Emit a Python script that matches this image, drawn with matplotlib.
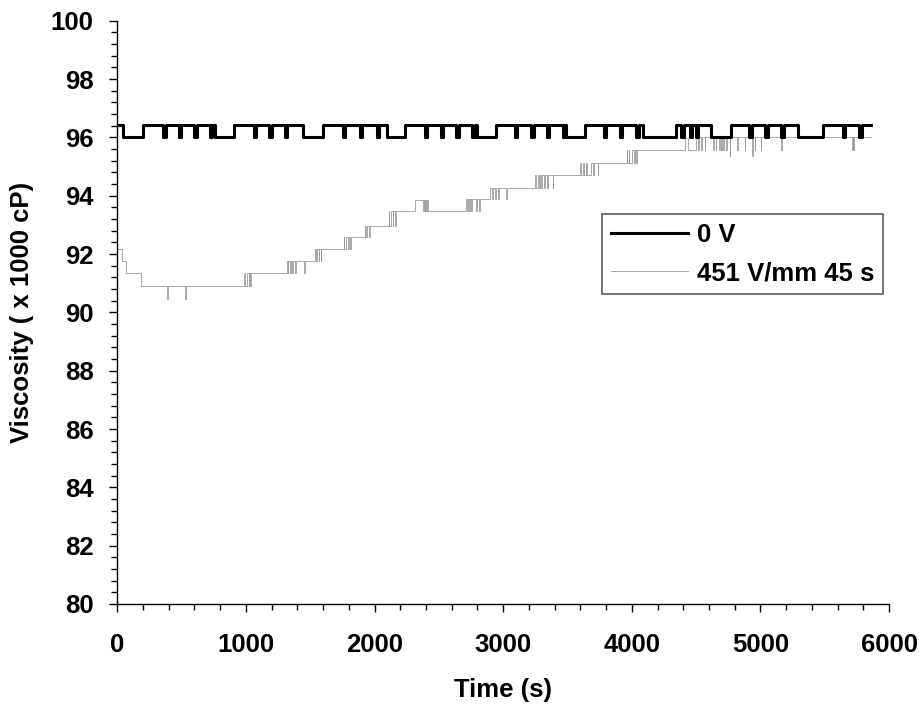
import numpy as np
import matplotlib
matplotlib.use("Agg")
import matplotlib.pyplot as plt
from matplotlib.ticker import MultipleLocator

# ---------------------------------------------------------
# Viscosity vs time, 0 V reference vs 451 V/mm applied 45 s
# values (x 1000 cP)
# ---------------------------------------------------------

T_END = 5862

# 0 V run: toggles between two levels
HI_0V = 96.43
LO_0V = 96.00
low_start_0v = [47, 759, 1441, 2093, 2793, 3492, 4087, 4619, 5289]
low_end_0v = [197, 907, 1601, 2235, 2948, 3633, 4347, 4774, 5486]
dip_times_0v = [357, 479, 598, 722, 1064, 1181, 1303, 1756, 1886, 2016,
                2391, 2515, 2637, 2761, 3090, 3220, 3337, 3465, 3781, 3905,
                4036, 4385, 4450, 4500, 4914, 5039, 5162, 5641, 5770]
DIP_W = 18

# 451 V/mm run: stepped recovery
step_t_451 = [0, 34, 68, 185, 1010, 1330, 1550, 1780, 1940, 2130, 2315,
              2375, 2760, 2900, 3300, 3680, 4000, 4411, 4437, 4500]
step_v_451 = [92.17, 91.75, 91.35, 90.90, 91.35, 91.75, 92.17, 92.60,
              92.97, 93.49, 93.86, 93.49, 93.88, 94.26, 94.72, 95.12,
              95.57, 95.97, 95.57, 96.00]
# short noise spikes (time, value)
spike_t_451 = [60, 80, 88, 150, 165, 195, 205, 389, 526, 985, 995, 1020,
               1030, 1320, 1345, 1360, 1380, 1453, 1540, 1565, 1580, 1760,
               1795, 1810, 1925, 1955, 2110, 2140, 2160, 2385, 2395, 2410,
               2710, 2725, 2745, 2790, 2810, 2915, 2935, 2960, 3020, 3250,
               3270, 3285, 3320, 3340, 3385, 3600, 3620, 3645, 3700, 3735,
               3960, 3975, 4020, 4036, 4514, 4541, 4566, 4631, 4652, 4678,
               4696, 4709, 4735, 4761, 4818, 4877, 4937, 4955, 5002, 5162,
               5714, 5722]
spike_v_451 = [91.75, 91.35, 91.35, 91.35, 91.35, 90.90, 90.90, 90.47, 90.47,
               91.35, 90.90, 90.90, 90.90, 91.75, 91.35, 91.35, 91.35, 91.35,
               92.17, 91.75, 91.75, 92.60, 92.17, 92.17, 92.97, 92.60, 93.49,
               92.97, 92.97, 93.86, 93.86, 93.86, 93.88, 93.88, 93.88, 93.49,
               93.49, 93.88, 93.88, 93.88, 93.88, 94.72, 94.72, 94.72, 94.26,
               94.26, 94.26, 95.12, 95.12, 95.12, 94.72, 94.72, 95.57, 95.57,
               95.12, 95.12, 95.57, 95.57, 95.57, 95.57, 95.57, 95.57, 95.57,
               95.57, 95.57, 95.35, 95.57, 95.57, 95.35, 95.57, 95.57, 95.57,
               95.57, 95.57]
SPIKE_W = 6


def build_0v():
    events = [(0, HI_0V)]
    for s, e in zip(low_start_0v, low_end_0v):
        events += [(s, LO_0V), (e, HI_0V)]
    for d in dip_times_0v:
        events += [(d, LO_0V), (d + DIP_W, HI_0V)]
    events.sort()
    t = [p[0] for p in events] + [T_END]
    v = [p[1] for p in events] + [events[-1][1]]
    return t, v


def build_451():
    st = np.array(step_t_451)
    sv = np.array(step_v_451)
    events = list(zip(step_t_451, step_v_451))
    for t, v in zip(spike_t_451, spike_v_451):
        base = sv[np.searchsorted(st, t, side="right") - 1]
        events += [(t, v), (t + SPIKE_W, base)]
    events.sort()
    t = [p[0] for p in events] + [T_END]
    v = [p[1] for p in events] + [events[-1][1]]
    return t, v


plt.rcParams["font.family"] = ["Liberation Sans", "DejaVu Sans"]
plt.rcParams["font.weight"] = "bold"
FS = 18.5

fig = plt.figure(figsize=(9.23, 7.09), dpi=100)
ax = fig.add_axes([0.1271, 0.1481, 0.8361, 0.8227])

t0, v0 = build_0v()
t1, v1 = build_451()

ax.plot(t1, v1, drawstyle="steps-post", color="#9a9a9a", linewidth=0.6,
        label="451 V/mm 45 s", zorder=2)
ax.plot(t0, v0, drawstyle="steps-post", color="black", linewidth=2.2,
        label="0 V", zorder=3)

ax.set_xlim(0, 6000)
ax.set_ylim(80, 100)
ax.xaxis.set_major_locator(MultipleLocator(1000))
ax.xaxis.set_minor_locator(MultipleLocator(200))
ax.yaxis.set_major_locator(MultipleLocator(2))
ax.yaxis.set_minor_locator(MultipleLocator(0.4))

for side in ["top", "right"]:
    ax.spines[side].set_visible(False)
for side in ["left", "bottom"]:
    ax.spines[side].set_linewidth(1.0)

ax.tick_params(axis="both", which="major", direction="out", length=6,
               width=1.0, labelsize=FS)
ax.tick_params(axis="both", which="minor", direction="out", length=4,
               width=1.0)
ax.tick_params(axis="x", which="major", pad=15)
ax.tick_params(axis="y", which="major", pad=11)

ax.set_xlabel("Time (s)", fontsize=FS, fontweight="bold", labelpad=15)
ax.set_ylabel("Viscosity ( x 1000 cP)", fontsize=FS, fontweight="bold",
              labelpad=12)

handles, labels = ax.get_legend_handles_labels()
leg = ax.legend(handles[::-1], labels[::-1], loc="upper left",
                bbox_to_anchor=(0.628, 0.668), borderaxespad=0,
                fontsize=FS, frameon=True, fancybox=False,
                handlelength=3.0, handletextpad=0.35, labelspacing=0.55,
                borderpad=0.35)
leg.get_frame().set_edgecolor("#333333")
leg.get_frame().set_linewidth(1.2)

fig.savefig("out.png", dpi=100)
plt.close(fig)
